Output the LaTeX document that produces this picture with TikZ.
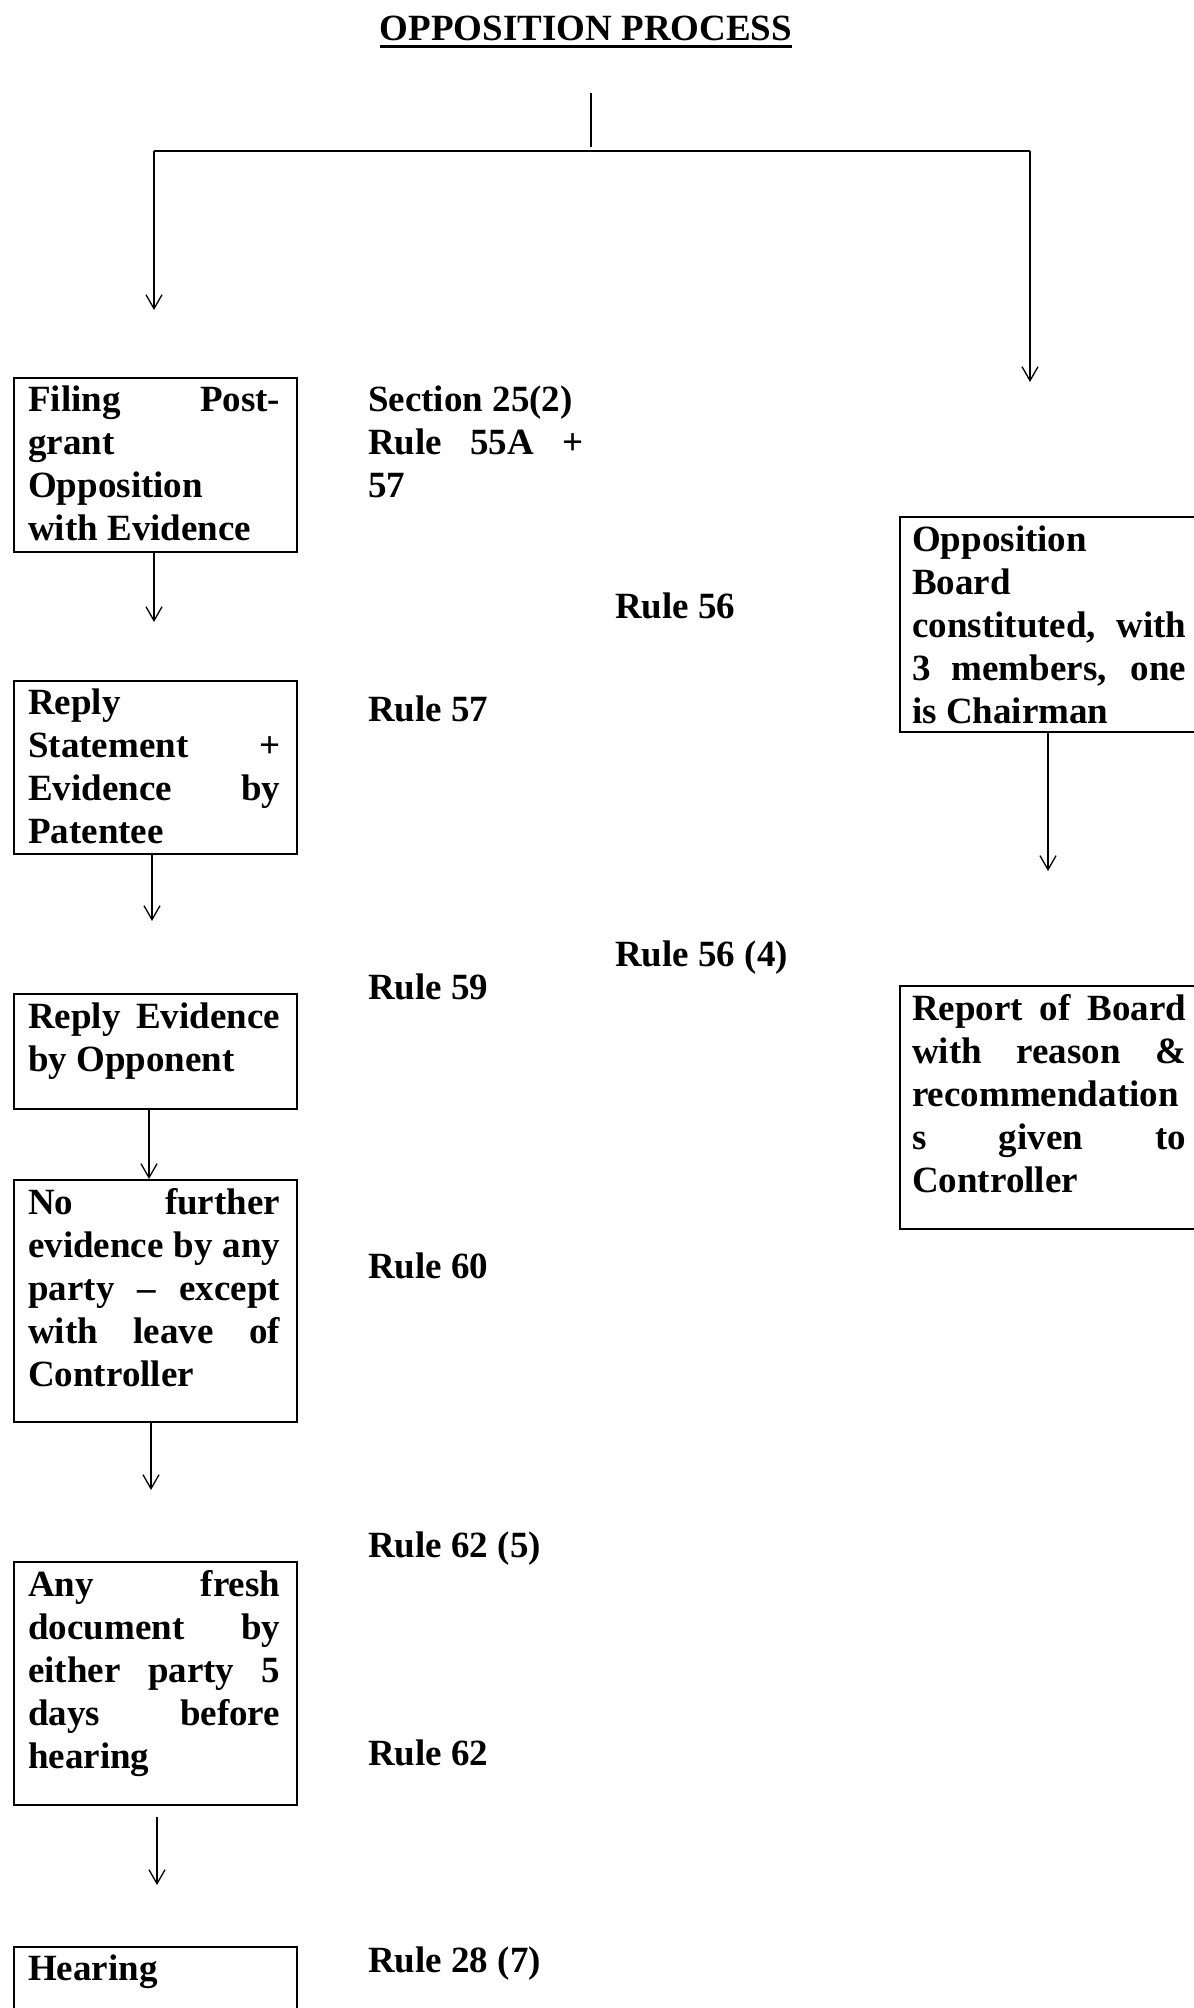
\documentclass[tikz,border=0pt]{standalone}
\usepackage{fontspec}
\setmainfont{Liberation Serif}
\usetikzlibrary{arrows.meta}
\hyphenpenalty=10000
\exhyphenpenalty=10000
\hbadness=10000
\begin{document}
\begin{tikzpicture}[x=1pt,y=-1pt,
  box/.style={draw,line width=2pt,rectangle,inner sep=0pt,anchor=north west},
  txt/.style={anchor=north west,inner sep=0pt,text width=#1,align=justify,font=\fontsize{37}{43}\selectfont\bfseries},
  lbl/.style={anchor=base west,inner sep=0pt,font=\fontsize{37}{43}\selectfont\bfseries},
  arr/.style={line width=1.3pt,-{Straight Barb[length=14pt,width=16pt]}},
  thin/.style={line width=1.3pt},
]
\useasboundingbox (0,0) rectangle (1194,2008);
% title
\node[anchor=base,inner sep=0pt,font=\fontsize{37}{43}\selectfont\bfseries] (title) at (586,40) {OPPOSITION PROCESS};
\draw[line width=3pt] ([yshift=-6.7pt]title.base west) -- ([yshift=-6.7pt]title.base east);

% boxes
\node[box,minimum width=283pt,minimum height=174pt] (b1) at (13,377) {};
\node[box,minimum width=283pt,minimum height=173pt] (b2) at (13,680) {};
\node[box,minimum width=283pt,minimum height=115pt] (b3) at (13,993) {};
\node[box,minimum width=283pt,minimum height=242pt] (b4) at (13,1179) {};
\node[box,minimum width=283pt,minimum height=243pt] (b5) at (13,1561) {};
\node[box,minimum width=283pt,minimum height=160pt] (b6) at (13,1946) {};
\node[box,minimum width=360pt,minimum height=215pt] (r1) at (899,516) {};
\node[box,minimum width=360pt,minimum height=243pt] (r2) at (899,985) {};

% box texts
\node[txt=252pt] (t1) at (28,381) {\strut Filing Post-\linebreak grant\linebreak Opposition\linebreak with Evidence};
\node[txt=252pt] (t2) at (28,684) {\strut Reply\linebreak Statement +\linebreak Evidence by\linebreak Patentee};
\node[txt=252pt] (t3) at (28,998) {\strut Reply Evidence\linebreak by Opponent};
\node[txt=252pt] (t4) at (28,1184) {\strut No further\linebreak evidence by any\linebreak party \textendash{} except\linebreak with leave of\linebreak Controller};
\node[txt=252pt] (t5) at (28,1566) {\strut Any fresh\linebreak document by\linebreak either party 5\linebreak days before\linebreak hearing};
\node[txt=252pt] (t6) at (28,1950) {\strut Hearing};
\node[txt=274pt] (t7) at (912,521) {\strut Opposition\linebreak Board\linebreak constituted, with\linebreak 3 members, one\linebreak is Chairman};
\node[txt=274pt] (t8) at (912,990.5) {\strut Report of Board\linebreak with reason \&\linebreak recommendation\linebreak s given to\linebreak Controller};

% rule labels
\node[txt=215pt] (s1) at (368,381) {\strut Section 25(2)\\Rule 55A +\linebreak 57};
\node[lbl] (l56) at (615,618) {Rule 56};
\node[lbl] (l57) at (368,721) {Rule 57};
\node[lbl] (l564) at (615,966) {Rule 56 (4)};
\node[lbl] (l59) at (368,999) {Rule 59};
\node[lbl] (l60) at (368,1278) {Rule 60};
\node[lbl] (l625) at (368,1557) {Rule 62 (5)};
\node[lbl] (l62) at (368,1765) {Rule 62};
\node[lbl] (l287) at (368,1972) {Rule 28 (7)};

% top branching
\coordinate (top) at (591,93);
\coordinate (topend) at (591,147);
\coordinate (hl) at (154,151);
\coordinate (hr) at (1030,151);
\coordinate (al) at (154,310);
\coordinate (ar) at (1030,382);
\draw[thin] (top) -- (topend);
\draw[line width=2pt] (hl) -- (hr);
\draw[arr] (hl) -- (al);
\draw[arr] (hr) -- (ar);

% vertical arrows
\coordinate (e1) at (154,622);
\coordinate (e2) at (152,921);
\coordinate (x3) at (149,0);
\coordinate (e4) at (151,1490);
\coordinate (s5) at (157,1817);
\coordinate (e5) at (157,1885);
\coordinate (er) at (1048,871);
\draw[arr] (b1.south -| e1) -- (e1);
\draw[arr] (b2.south -| e2) -- (e2);
\draw[arr] (b3.south -| x3) -- (b4.north -| x3);
\draw[arr] (b4.south -| e4) -- (e4);
\draw[arr] (s5) -- (e5);
\draw[arr] (r1.south -| er) -- (er);
\end{tikzpicture}
\end{document}
